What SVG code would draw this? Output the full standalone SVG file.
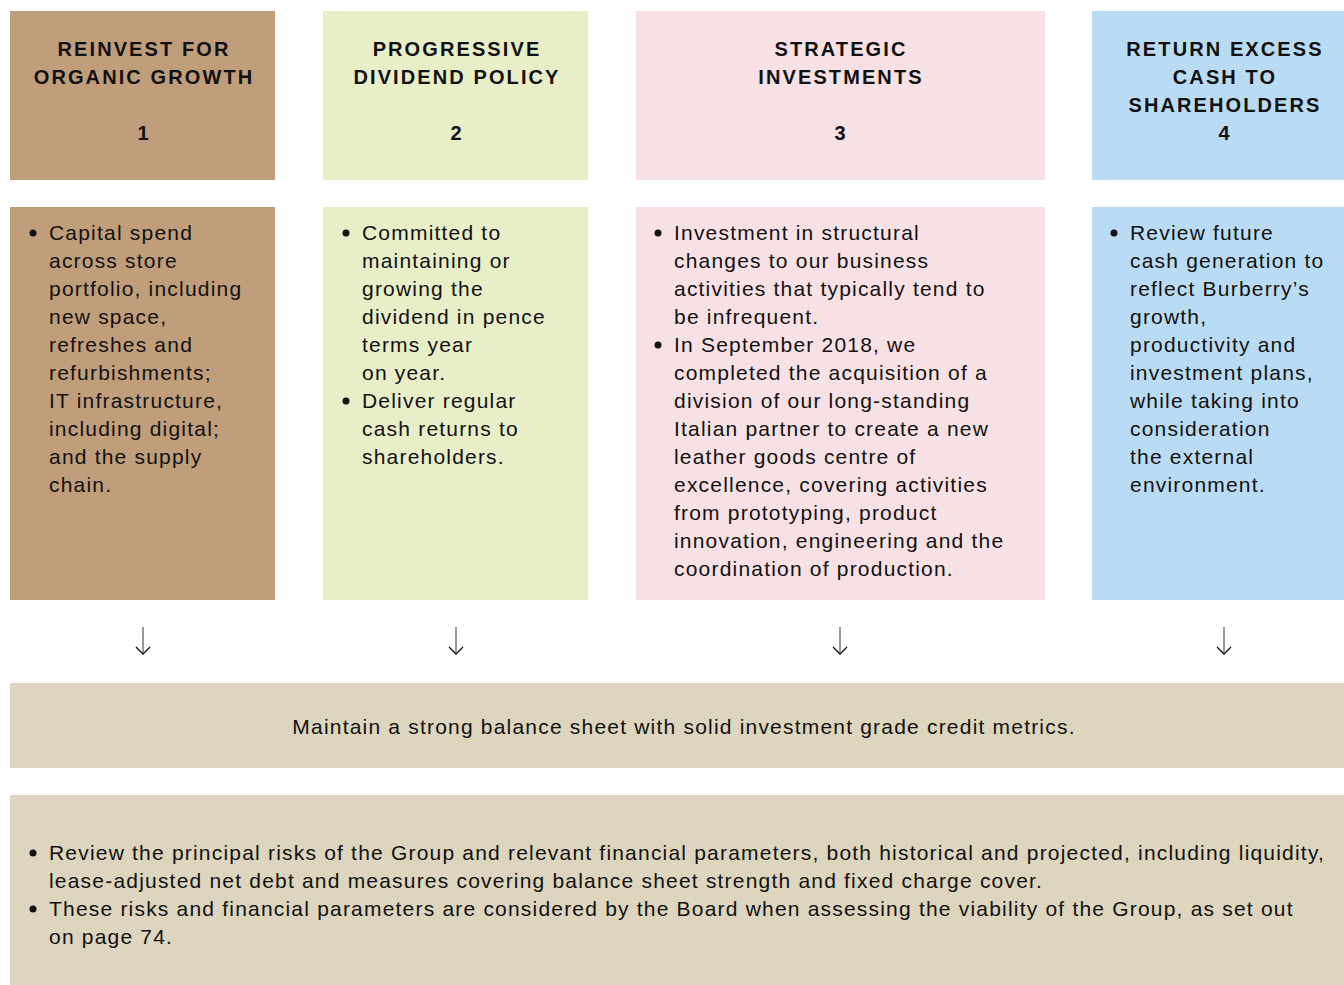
<svg xmlns="http://www.w3.org/2000/svg" width="1344" height="985" viewBox="0 0 1344 985">
<style>
.h{font-family:"Liberation Sans",Arial,sans-serif;font-size:20px;font-weight:bold;letter-spacing:2.1px;fill:#111;text-anchor:middle}
.t{font-family:"Liberation Sans",Arial,sans-serif;font-size:21px;letter-spacing:1.2px;fill:#111}
.c1{fill:#c19e7b}.c2{fill:#e8eec8}.c3{fill:#f7e1e5}.c4{fill:#b9dcf4}.cb{fill:#ddd5bd}
.arr{stroke:#777;stroke-width:1.5;fill:none}
.ah{stroke:#111;stroke-width:1.3;fill:none}
</style>
<rect width="1344" height="985" fill="#fff"/>
<g id="n1h"><rect class="c1" x="10" y="11" width="265" height="169"/>
<text class="h" x="144" y="56">REINVEST FOR</text><text class="h" x="144" y="84">ORGANIC GROWTH</text><text class="h" x="144" y="140">1</text></g>
<g id="n2h"><rect class="c2" x="323" y="11" width="265" height="169"/>
<text class="h" x="457" y="56">PROGRESSIVE</text><text class="h" x="457" y="84">DIVIDEND POLICY</text><text class="h" x="457" y="140">2</text></g>
<g id="n3h"><rect class="c3" x="636" y="11" width="409" height="169"/>
<text class="h" x="841" y="56">STRATEGIC</text><text class="h" x="841" y="84">INVESTMENTS</text><text class="h" x="841" y="140">3</text></g>
<g id="n4h"><rect class="c4" x="1092" y="11" width="252" height="169"/>
<text class="h" x="1225" y="56">RETURN EXCESS</text><text class="h" x="1225" y="84">CASH TO</text><text class="h" x="1225" y="112">SHAREHOLDERS</text><text class="h" x="1225" y="140">4</text></g>

<g id="n1b"><rect class="c1" x="10" y="207" width="265" height="393"/>
<circle cx="33" cy="233" r="3.5" fill="#111"/>
<text class="t"><tspan x="49" y="240">Capital spend</tspan><tspan x="49" y="268">across store</tspan><tspan x="49" y="296">portfolio, including</tspan><tspan x="49" y="324">new space,</tspan><tspan x="49" y="352">refreshes and</tspan><tspan x="49" y="380">refurbishments;</tspan><tspan x="49" y="408">IT infrastructure,</tspan><tspan x="49" y="436">including digital;</tspan><tspan x="49" y="464">and the supply</tspan><tspan x="49" y="492">chain.</tspan></text></g>
<g id="n2b"><rect class="c2" x="323" y="207" width="265" height="393"/>
<circle cx="346" cy="233" r="3.5" fill="#111"/><circle cx="346" cy="401" r="3.5" fill="#111"/>
<text class="t"><tspan x="362" y="240">Committed to</tspan><tspan x="362" y="268">maintaining or</tspan><tspan x="362" y="296">growing the</tspan><tspan x="362" y="324">dividend in pence</tspan><tspan x="362" y="352">terms year</tspan><tspan x="362" y="380">on year.</tspan><tspan x="362" y="408">Deliver regular</tspan><tspan x="362" y="436">cash returns to</tspan><tspan x="362" y="464">shareholders.</tspan></text></g>
<g id="n3b"><rect class="c3" x="636" y="207" width="409" height="393"/>
<circle cx="658" cy="233" r="3.5" fill="#111"/><circle cx="658" cy="345" r="3.5" fill="#111"/>
<text class="t"><tspan x="674" y="240">Investment in structural</tspan><tspan x="674" y="268">changes to our business</tspan><tspan x="674" y="296">activities that typically tend to</tspan><tspan x="674" y="324">be infrequent.</tspan><tspan x="674" y="352">In September 2018, we</tspan><tspan x="674" y="380">completed the acquisition of a</tspan><tspan x="674" y="408">division of our long-standing</tspan><tspan x="674" y="436">Italian partner to create a new</tspan><tspan x="674" y="464">leather goods centre of</tspan><tspan x="674" y="492">excellence, covering activities</tspan><tspan x="674" y="520">from prototyping, product</tspan><tspan x="674" y="548">innovation, engineering and the</tspan><tspan x="674" y="576">coordination of production.</tspan></text></g>
<g id="n4b"><rect class="c4" x="1092" y="207" width="252" height="393"/>
<circle cx="1114" cy="233" r="3.5" fill="#111"/>
<text class="t"><tspan x="1130" y="240">Review future</tspan><tspan x="1130" y="268">cash generation to</tspan><tspan x="1130" y="296">reflect Burberry’s</tspan><tspan x="1130" y="324">growth,</tspan><tspan x="1130" y="352">productivity and</tspan><tspan x="1130" y="380">investment plans,</tspan><tspan x="1130" y="408">while taking into</tspan><tspan x="1130" y="436">consideration</tspan><tspan x="1130" y="464">the external</tspan><tspan x="1130" y="492">environment.</tspan></text></g>

<g id="connectors">
<path class="arr" d="M143 627V654"/><path class="ah" d="M136 647L143 654L150 647"/>
<path class="arr" d="M456 627V654"/><path class="ah" d="M449 647L456 654L463 647"/>
<path class="arr" d="M840 627V654"/><path class="ah" d="M833 647L840 654L847 647"/>
<path class="arr" d="M1224 627V654"/><path class="ah" d="M1217 647L1224 654L1231 647"/>
</g>

<g id="bar"><rect class="cb" x="10" y="683" width="1334" height="85"/>
<text class="t" x="684" y="734" text-anchor="middle">Maintain a strong balance sheet with solid investment grade credit metrics.</text></g>
<g id="risks"><rect class="cb" x="10" y="795" width="1334" height="190"/>
<circle cx="33" cy="853" r="3.5" fill="#111"/><circle cx="33" cy="909" r="3.5" fill="#111"/>
<text class="t"><tspan x="49" y="860">Review the principal risks of the Group and relevant financial parameters, both historical and projected, including liquidity,</tspan><tspan x="49" y="888">lease-adjusted net debt and measures covering balance sheet strength and fixed charge cover.</tspan><tspan x="49" y="916">These risks and financial parameters are considered by the Board when assessing the viability of the Group, as set out</tspan><tspan x="49" y="944">on page 74.</tspan></text></g>
</svg>
